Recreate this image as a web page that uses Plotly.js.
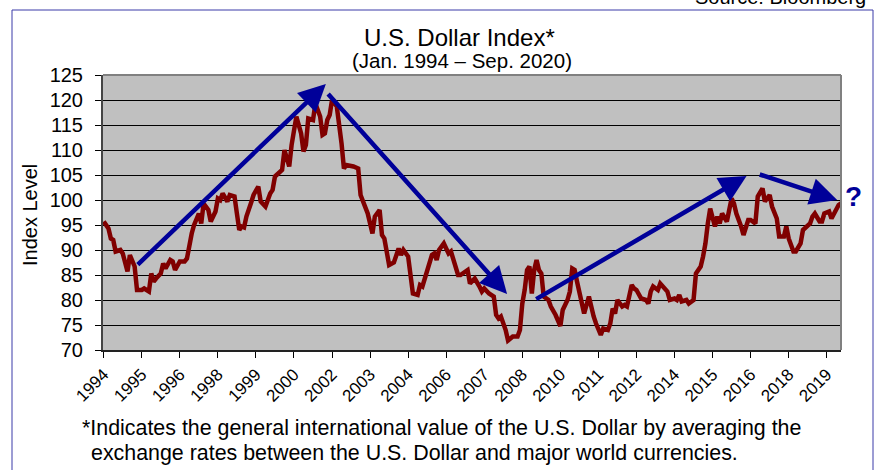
<!DOCTYPE html>
<html><head><meta charset="utf-8">
<script src="https://cdn.plot.ly/plotly-3.0.1.min.js"></script>
<style>html,body{margin:0;padding:0;background:#fff}#chart{width:887px;height:470px}</style>
</head><body><div id="chart"></div>
<script>
// month index counted from Jan 1994
const months = [0,2,3,4,5,7,8,10,11,12,13,14,16,17,19,20,21,22,24,25,26,28,29,30,32,34,35,37,38,40,41,42,44,45,47,48,49,50,52,53,55,56,57,58,59,60,61,62,63,65,66,68,70,71,72,74,75,76,77,78,79,80,81,83,84,85,86,88,89,91,92,93,94,95,96,98,99,100,101,102,105,107,108,110,111,113,114,116,117,118,120,122,124,125,126,128,129,130,132,133,134,135,137,138,139,140,141,143,144,145,146,148,149,150,151,153,154,156,158,159,160,162,164,165,166,167,169,170,172,174,175,176,177,178,179,180,181,182,183,184,185,187,188,190,192,193,195,196,197,198,199,200,201,202,204,205,206,207,209,210,212,213,214,215,216,218,219,220,222,223,224,226,228,229,230,231,233,234,236,237,238,240,241,242,243,245,246,248,249,251,252,253,254,255,257,258,259,260,262,264,265,266,268,269,271,272,274,275,277,278,280,281,283,284,286,287,288,290,291,293,294,296,297,298,299,301,302,303,305,306,308,309,310];
const indexLevel = [95.7,94.3,92.3,92.0,89.7,90.0,89.3,85.7,89.0,88.0,86.7,82.0,82.0,82.3,81.7,85.3,83.7,84.3,85.3,87.3,86.3,88.0,87.7,86.0,87.7,87.7,88.3,93.3,95.0,97.3,95.3,99.3,98.0,95.7,97.7,100.3,100.0,101.3,99.7,101.0,100.7,97.3,94.0,94.7,94.5,96.7,98.5,99.5,101.0,102.7,99.7,98.7,101.3,102.0,104.7,105.7,106.0,110.0,108.0,106.7,111.0,113.3,116.7,113.3,109.7,111.0,116.3,116.0,119.3,116.7,113.0,113.3,116.0,117.0,120.0,118.7,115.3,111.3,106.3,107.0,106.7,106.3,101.0,98.7,97.3,93.3,96.7,98.0,93.0,92.3,87.0,87.5,90.3,89.0,90.0,88.7,84.7,81.3,81.0,83.0,82.7,84.3,88.0,89.0,89.3,88.0,90.0,91.3,90.3,89.3,89.7,86.3,85.0,85.0,85.3,86.0,83.3,84.3,82.7,81.7,82.3,81.3,80.7,77.0,76.3,76.7,74.0,71.9,72.7,72.7,74.0,79.3,82.0,86.0,86.7,81.3,86.0,88.0,86.0,85.3,80.7,80.0,78.7,77.0,74.8,78.0,80.0,81.7,86.3,86.0,83.7,81.7,80.0,77.3,80.7,78.3,76.7,75.3,73.0,74.3,74.0,75.3,78.3,77.3,80.0,78.7,79.0,78.7,83.0,82.3,82.0,80.3,80.0,79.3,81.7,82.7,82.0,83.3,82.0,81.7,80.0,80.3,80.0,81.0,79.7,80.0,79.3,80.0,85.3,86.7,88.7,91.3,95.3,98.3,94.7,96.7,95.3,97.3,95.7,100.3,99.3,97.3,94.7,93.0,96.0,96.0,95.3,100.7,102.3,99.7,101.0,98.7,96.3,92.7,92.7,94.7,92.3,89.7,89.7,91.3,94.0,94.7,95.3,96.7,97.3,95.7,95.7,97.3,97.7,96.3,98.3,99.0,99.3,97.3];
const tickMonths = [0,16,32,48,64,80,96,112,128,144,160,176,192,208,224,240,256,272,288,304];
const tickLabels = ['1994','1995','1996','1998','1999','2000','2002','2003','2004','2006','2007','2008','2010','2011','2012','2014','2015','2016','2018','2019'];
// trend arrows (tail -> head), in month index / index level
const arrowTailX = [13.7, 93.8, 181.2, 275.2];
const arrowTailY = [86.8, 121.5, 80.0, 105.2];
const arrowHeadX = [93.4, 169.6, 270.3, 308.4];
const arrowHeadY = [123.2, 81.2, 104.8, 100.0];

const FONT = 'Arial, "Liberation Sans", sans-serif';
const navy = '#000099';

// paper helpers (plot area: x 103..841, y 75..350)
const px = x => (x - 103) / 738;
const py = y => (350 - y) / 275;

const annotations = [];
for (let i = 0; i < arrowTailX.length; i++) {
  annotations.push({x: arrowHeadX[i], y: arrowHeadY[i], ax: arrowTailX[i], ay: arrowTailY[i],
    xref: 'x', yref: 'y', axref: 'x', ayref: 'y', text: '', showarrow: true,
    arrowhead: 2, arrowsize: 1.2, arrowwidth: 4.5, arrowcolor: navy, standoff: 0, startstandoff: 0});
}
annotations.push(
  {text: 'U.S. Dollar Index*', x: px(459), y: py(37), xref: 'paper', yref: 'paper', showarrow: false,
   xanchor: 'center', yanchor: 'middle', font: {family: FONT, size: 24, color: '#000'}},
  {text: '(Jan. 1994 – Sep. 2020)', x: px(462), y: py(60), xref: 'paper', yref: 'paper', showarrow: false,
   xanchor: 'center', yanchor: 'middle', font: {family: FONT, size: 20.5, color: '#000'}},
  {text: 'Index Level', x: px(30), y: py(215), xref: 'paper', yref: 'paper', showarrow: false, textangle: -90,
   xanchor: 'center', yanchor: 'middle', font: {family: FONT, size: 20, color: '#000'}},
  {text: '?', x: px(853), y: py(196), xref: 'paper', yref: 'paper', showarrow: false,
   xanchor: 'center', yanchor: 'middle', font: {family: FONT, size: 28, color: navy, weight: 'bold'}},
  {text: 'Source: Bloomberg', x: px(868), y: py(-3), xref: 'paper', yref: 'paper', showarrow: false,
   xanchor: 'right', yanchor: 'middle', font: {family: FONT, size: 20, color: '#000'}},
  {text: '*Indicates the general international value of the U.S. Dollar by averaging the', x: px(80), y: py(428),
   xref: 'paper', yref: 'paper', showarrow: false, xanchor: 'left', yanchor: 'middle', font: {family: FONT, size: 21.4, color: '#000'}},
  {text: 'exchange rates between the U.S. Dollar and major world currencies.', x: px(89), y: py(453),
   xref: 'paper', yref: 'paper', showarrow: false, xanchor: 'left', yanchor: 'middle', font: {family: FONT, size: 21.4, color: '#000'}}
);

const trace = {x: months, y: indexLevel, type: 'scatter', mode: 'lines',
  line: {color: '#800000', width: 4.5}, hoverinfo: 'skip'};

const layout = {
  width: 887, height: 470,
  margin: {l: 103, r: 46, t: 75, b: 120},
  paper_bgcolor: '#ffffff', plot_bgcolor: '#c0c0c0',
  showlegend: false,
  font: {family: FONT, color: '#000'},
  xaxis: {range: [-0.3, 310], tickmode: 'array', tickvals: tickMonths, ticktext: tickLabels,
    tickangle: -45, ticks: 'outside', ticklen: 6, tickcolor: '#000', tickwidth: 1,
    showgrid: false, zeroline: false, showline: true, linecolor: '#222', linewidth: 2,
    tickfont: {family: FONT, size: 17, color: '#000'}},
  yaxis: {range: [70, 125], dtick: 5, tick0: 70, ticks: 'outside', ticklen: 6, tickcolor: '#000',
    showgrid: true, gridcolor: '#000', gridwidth: 1, zeroline: false,
    showline: true, linecolor: '#444', linewidth: 2, ticklabelstandoff: 8,
    tickfont: {family: FONT, size: 20, color: '#000'}},
  shapes: [
    {type: 'line', xref: 'paper', yref: 'paper', x0: 0, x1: 1, y0: 1, y1: 1, line: {color: '#808080', width: 2}},
    {type: 'line', xref: 'paper', yref: 'paper', x0: 1, x1: 1, y0: 0, y1: 1, line: {color: '#808080', width: 2}},
    {type: 'rect', xref: 'paper', yref: 'paper', x0: px(12), x1: px(873), y0: py(480), y1: py(10),
     line: {color: '#3b3ba8', width: 1}, fillcolor: 'rgba(0,0,0,0)'}
  ],
  annotations: annotations
};

Plotly.newPlot('chart', [trace], layout, {staticPlot: true, displayModeBar: false});
</script></body></html>
